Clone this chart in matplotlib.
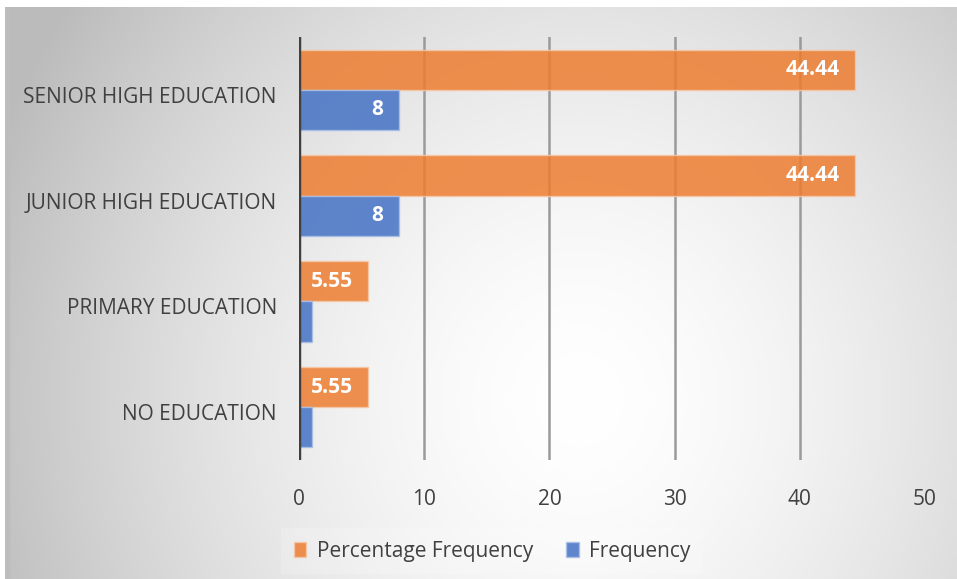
import numpy as np
import matplotlib
matplotlib.use("Agg")
import matplotlib.pyplot as plt
import matplotlib.transforms as mtransforms
from matplotlib.patches import Rectangle

plt.rcParams['font.family'] = ['Open Sans', 'DejaVu Sans']

# Education level of respondents
categories = ["NO EDUCATION", "PRIMARY EDUCATION", "JUNIOR HIGH EDUCATION", "SENIOR HIGH EDUCATION"]
percentage = [5.55, 5.55, 44.44, 44.44]
frequency = [1, 1, 8, 8]
x_ticks = [0, 10, 20, 30, 40, 50]

ORANGE = "#ED7D31"
BLUE = "#4472C4"
TEXT = "#404040"
FS = 15

W, H = 957, 579
fig = plt.figure(figsize=(W / 100, H / 100), dpi=100)
fig.patch.set_facecolor("white")

# radial grey background panel
bg = fig.add_axes([5 / W, 0, 1 - 5 / W, 1 - 7 / H], zorder=0)
xx, yy = np.meshgrid(np.linspace(5, W, 400), np.linspace(7, H, 300))
d = np.sqrt(((xx - 580) / 575) ** 2 + ((yy - 400) / 620) ** 2)
g = 255 - 58 * np.clip(d, 0, 1.1) ** 1.6
img = np.dstack([g, g, g]).astype(np.uint8)
bg.imshow(img, extent=[0, 1, 0, 1], aspect="auto", origin="upper")
bg.add_patch(Rectangle((0, 0), 0.004, 1, color="#bdbdbd", transform=bg.transAxes))
bg.set_axis_off()

ax = fig.add_axes([299 / W, 1 - 460 / H, (925 - 299) / W, (460 - 37) / H], zorder=1)
ax.patch.set_alpha(0)

y = np.arange(len(categories))
h = 0.38
bars_p = ax.barh(y + h / 2, percentage, height=h, color=ORANGE, alpha=0.85,
                 edgecolor="#f6c8a8", linewidth=1.0, label="Percentage Frequency", zorder=3)
bars_f = ax.barh(y - h / 2, frequency, height=h, color=BLUE, alpha=0.85,
                 edgecolor="#a9bfe6", linewidth=1.0, label="Frequency", zorder=3)

for bar, v in zip(bars_p, percentage):
    ax.text(bar.get_width() - 1.25, bar.get_y() + bar.get_height() / 2, f"{v:.2f}",
            ha="right", va="center", color="white", fontsize=FS, fontweight="bold", zorder=4)
for bar, v in zip(bars_f, frequency):
    if v >= 5:
        ax.text(bar.get_width() - 1.25, bar.get_y() + bar.get_height() / 2, f"{v}",
                ha="right", va="center", color="white", fontsize=FS, fontweight="bold", zorder=4)

ax.set_xlim(0, 50)
ax.set_ylim(-0.5, len(categories) - 0.5)
for xv in x_ticks[1:-1]:
    ax.axvline(xv, color="#9a9a9a", linewidth=1.8, zorder=1)
ax.axvline(0, color="#404040", linewidth=3.2, zorder=5)

ax.set_xticks(x_ticks)
ax.set_xticklabels([str(t) for t in x_ticks])
ax.set_yticks(y)
ax.set_yticklabels(categories)
ax.tick_params(axis="both", length=0, labelsize=FS, labelcolor=TEXT)
ax.tick_params(axis="x", pad=21)
ax.tick_params(axis="y", pad=16)
shift = mtransforms.ScaledTranslation(0, -5 / 100, fig.dpi_scale_trans)
for lbl in ax.get_yticklabels():
    lbl.set_transform(lbl.get_transform() + shift)
for s in ax.spines.values():
    s.set_visible(False)

leg = fig.legend(handles=[bars_p, bars_f], loc="center", bbox_to_anchor=(492 / W, 1 - 551 / H),
                 ncol=2, frameon=True, fontsize=FS, handlelength=0.6, handleheight=0.7,
                 handletextpad=0.5, columnspacing=1.6, borderpad=0.6, borderaxespad=0,
                 fancybox=False)
leg.get_frame().set_facecolor("white")
leg.get_frame().set_alpha(0.2)
leg.get_frame().set_edgecolor("none")
for t in leg.get_texts():
    t.set_color(TEXT)

fig.savefig("out.png", dpi=100)
